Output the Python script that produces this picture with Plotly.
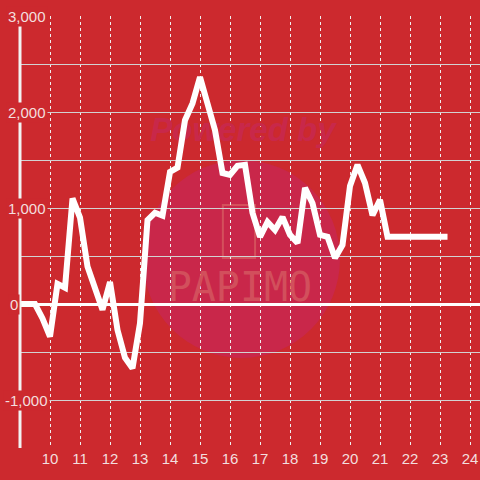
import plotly.graph_objects as go

# ---- data ----
x_vals = [9, 9.25, 9.5, 9.75, 10, 10.25, 10.5, 10.75, 11, 11.25, 11.5, 11.75,
          12, 12.25, 12.5, 12.75, 13, 13.25, 13.5, 13.75, 14, 14.25, 14.5, 14.75,
          15, 15.25, 15.5, 15.75, 16, 16.25, 16.5, 16.75, 17, 17.25, 17.5, 17.75,
          18, 18.25, 18.5, 18.75, 19, 19.25, 19.5, 19.75, 20, 20.25, 20.5, 20.75,
          21, 21.25, 21.5, 21.75, 22, 22.25, 22.5, 22.75, 23, 23.25]
y_vals = [0, 0, 0, -150, -340, 210, 170, 1100, 900, 390, 160, -60,
          230, -270, -560, -670, -200, 875, 950, 920, 1375, 1420, 1915, 2090,
          2365, 2090, 1810, 1365, 1345, 1440, 1450, 950, 700, 855, 770, 905,
          720, 635, 1210, 1050, 720, 700, 480, 615, 1230, 1450, 1260, 925,
          1085, 700, 700, 700, 700, 700, 700, 700, 700, 700]
y_label_vals = [3000, 2000, 1000, 0, -1000]
y_label_text = ["3,000", "2,000", "1,000", "0", "-1,000"]
x_tick_vals = [10, 11, 12, 13, 14, 15, 16, 17, 18, 19, 20, 21, 22, 23, 24]
x_tick_text = ["10", "11", "12", "13", "14", "15", "16", "17", "18", "19",
               "20", "21", "22", "23", "24"]

BG = "#CC292E"
LABEL = "#F3DEDE"

fig = go.Figure()

# watermark text (drawn under the data line)
fig.add_trace(go.Scatter(
    x=[16.43], y=[1780], mode="text", text=["<b><i>Powered by</i></b>"],
    textfont=dict(family="Liberation Sans, Arial", size=33, color="#C8284A"),
    hoverinfo="skip", showlegend=False))
fig.add_trace(go.Scatter(
    x=[16.33], y=[140], mode="text", text=["PAPIMO"],
    textfont=dict(family="DejaVu Sans Mono", size=40, color="#D24F5C"),
    hoverinfo="skip", showlegend=False))

fig.add_trace(go.Scatter(
    x=x_vals, y=y_vals, mode="lines",
    line=dict(color="#FFFFFF", width=6),
    hoverinfo="skip", showlegend=False))

# watermark circle and icon
fig.add_shape(type="circle", xref="paper", yref="paper",
              x0=0.2674, x1=0.6957, y0=0.2083, y1=0.6667,
              fillcolor="#C9274A", line=dict(width=0), layer="below")
fig.add_shape(type="rect", xref="paper", yref="paper",
              x0=0.441, x1=0.511, y0=0.44, y1=0.5625,
              fillcolor="rgba(0,0,0,0)", line=dict(color="#D4505C", width=2),
              layer="below")

# y axis line
fig.add_shape(type="line", xref="paper", yref="y",
              x0=0, x1=0, y0=-1500, y1=2917,
              line=dict(color="#F2F2F2", width=3), layer="above")

label_x = {"3,000": 6, "2,000": 6, "1,000": 6, "0": 8, "-1,000": 3}
for v, t in zip(y_label_vals, y_label_text):
    fig.add_annotation(
        xref="paper", yref="y", x=(label_x[t] - 20) / 460, y=v,
        xanchor="left", yanchor="middle", text=t, showarrow=False,
        font=dict(family="Liberation Sans, Arial", size=15, color=LABEL),
        bgcolor=BG, borderpad=1)

fig.update_layout(
    width=480, height=480,
    margin=dict(l=20, r=0, t=16, b=32),
    paper_bgcolor=BG, plot_bgcolor=BG,
    xaxis=dict(range=[9, 24.333], tickvals=x_tick_vals, ticktext=x_tick_text,
               showgrid=True, gridcolor="#F0F0F0", griddash="dot", gridwidth=1,
               zeroline=False, showline=False, ticks="", automargin=False,
               tickfont=dict(family="Liberation Sans, Arial", size=15, color=LABEL)),
    yaxis=dict(range=[-1500, 3000], dtick=500, tick0=0, automargin=False,
               showgrid=True, gridcolor="#D2D2D2", gridwidth=1,
               zeroline=True, zerolinecolor="#FFFFFF", zerolinewidth=3,
               showticklabels=False, ticks="", showline=False),
)

fig.write_html("out.html", config={"displayModeBar": False},
               post_script="document.body.style.margin='0';")
